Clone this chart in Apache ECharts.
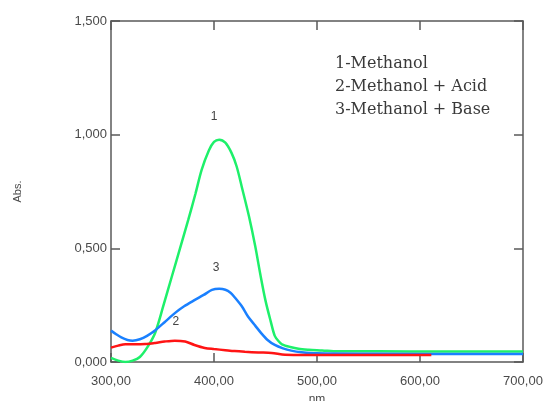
<!DOCTYPE html>
<html>
<head>
<meta charset="utf-8">
<script src="https://cdn.jsdelivr.net/npm/echarts@6/dist/echarts.min.js"></script>
<style>
  html, body { margin: 0; padding: 0; background: #fff; }
  #chart { width: 544px; height: 401px; }
</style>
</head>
<body>
<div id="chart"></div>
<script>
// spectra: [wavelength nm, absorbance]
const methanol = [
  [300, 0.018], [307, 0.006], [314, 0.0], [321, 0.006], [328, 0.022], [336, 0.07],
  [343, 0.13], [351, 0.25], [359, 0.375], [367, 0.5], [375, 0.625], [382, 0.74],
  [388, 0.845], [395, 0.93], [400, 0.968], [405, 0.978], [411, 0.965], [417, 0.92],
  [422, 0.86], [427, 0.77], [434, 0.64], [440, 0.51], [445, 0.385], [450, 0.27],
  [455, 0.18], [459, 0.115], [463, 0.09], [466, 0.078], [474, 0.066], [482, 0.058],
  [492, 0.054], [505, 0.051], [520, 0.047], [560, 0.047], [620, 0.046], [660, 0.046], [700, 0.046]
];
const methanolAcid = [
  [300, 0.063], [307, 0.072], [314, 0.078], [323, 0.078], [333, 0.079], [343, 0.084],
  [352, 0.09], [362, 0.094], [372, 0.09], [381, 0.075], [391, 0.062], [400, 0.057],
  [411, 0.052], [420, 0.048], [430, 0.045], [443, 0.042], [456, 0.04], [469, 0.032],
  [490, 0.031], [540, 0.031], [611, 0.031]
];
const methanolBase = [
  [300, 0.138], [305, 0.122], [310, 0.108], [316, 0.097], [321, 0.094], [328, 0.1],
  [335, 0.115], [343, 0.14], [352, 0.175], [362, 0.215], [371, 0.245], [381, 0.272],
  [390, 0.295], [398, 0.317], [405, 0.322], [411, 0.318], [416, 0.305], [420, 0.285],
  [427, 0.245], [433, 0.2], [440, 0.16], [446, 0.126], [452, 0.097], [459, 0.075],
  [467, 0.06], [475, 0.05], [485, 0.043], [500, 0.038], [560, 0.036], [640, 0.035], [700, 0.035]
];
const curveNames = ['1', '2', '3'];
const curveTags = [[400, 1.078], [363, 0.176], [402, 0.414]];
const legendLines = ['1-Methanol', '2-Methanol + Acid', '3-Methanol + Base'];

const chart = echarts.init(document.getElementById('chart'));

const frame = '#5a5a5a';
const labelColor = '#4a4a4a';
const numFont = 'Liberation Sans, Arial, sans-serif';

function axisBase(extra) {
  return Object.assign({
    type: 'value',
    axisLine: { show: true, onZero: false, lineStyle: { color: frame, width: 1.5 } },
    axisTick: { show: true, inside: true, length: 9, lineStyle: { color: frame, width: 1.5 } },
    splitLine: { show: false }
  }, extra);
}

function series(name, data, color, idx) {
  return {
    name: name,
    type: 'line',
    data: data,
    symbol: 'none',
    smooth: 0.3,
    lineStyle: { color: color, width: 2.5 },
    markPoint: {
      symbol: 'circle',
      symbolSize: 0,
      data: [{ coord: curveTags[idx] }],
      label: {
        show: true,
        formatter: curveNames[idx],
        color: '#444',
        fontFamily: numFont,
        fontSize: 12
      }
    },
    z: 3
  };
}

chart.setOption({
  animation: false,
  grid: { left: 111, right: 21, top: 21, bottom: 39, outerBoundsMode: 'none' },
  xAxis: [
    axisBase({
      min: 300, max: 700, interval: 100, position: 'bottom',
      name: 'nm', nameLocation: 'middle', nameGap: 32,
      nameTextStyle: { color: labelColor, fontFamily: numFont, fontSize: 12 },
      axisLabel: {
        color: labelColor, fontFamily: numFont, fontSize: 13, margin: 13,
        formatter: v => v.toFixed(2).replace('.', ',')
      }
    }),
    axisBase({
      min: 300, max: 700, interval: 100, position: 'top',
      axisLabel: { show: false }
    })
  ],
  yAxis: [
    axisBase({
      min: 0, max: 1.5, interval: 0.5, position: 'left',
      name: 'Abs.', nameLocation: 'middle', nameGap: 88,
      nameTextStyle: { color: labelColor, fontFamily: numFont, fontSize: 11 },
      axisLabel: {
        color: labelColor, fontFamily: numFont, fontSize: 13, margin: 4,
        formatter: v => v.toFixed(3).replace('.', ',')
      }
    }),
    axisBase({
      min: 0, max: 1.5, interval: 0.5, position: 'right',
      axisLabel: { show: false }
    })
  ],
  graphic: legendLines.map((t, i) => ({
    type: 'text',
    left: 335,
    top: 56 + i * 23,
    style: {
      text: t,
      fill: '#3a3a3a',
      font: '16px "DejaVu Serif", serif'
    }
  })),
  series: [
    series('Methanol', methanol, '#1ef06a', 0),
    series('Methanol + Base', methanolBase, '#1a80ff', 2),
    series('Methanol + Acid', methanolAcid, '#ff1414', 1)
  ]
});
</script>
</body>
</html>
